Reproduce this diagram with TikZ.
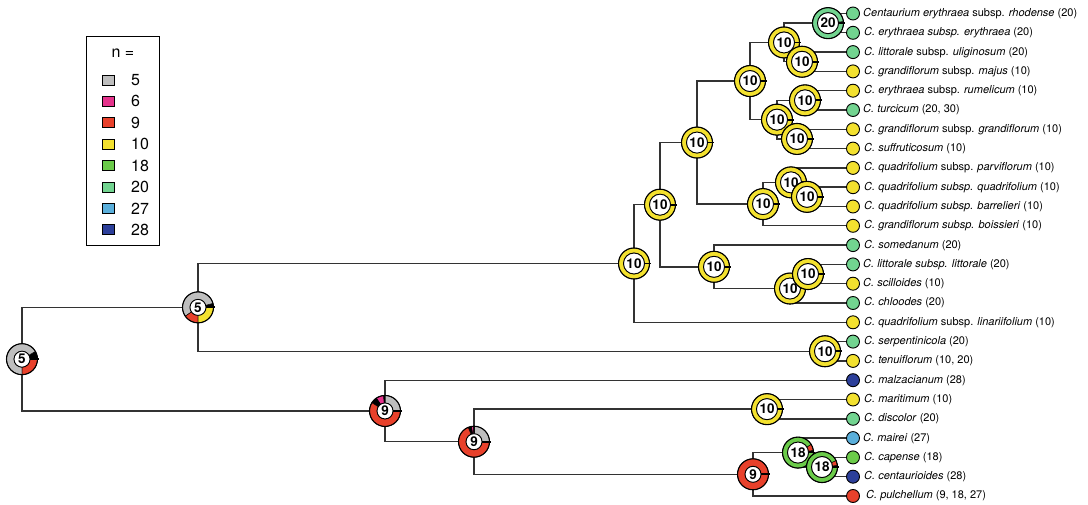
\documentclass[tikz,border=0pt]{standalone}
\usepackage{fontspec}
\setmainfont{TeX Gyre Heros}
\definecolor{c5}{HTML}{BEBEBE}
\definecolor{c6}{HTML}{E5338C}
\definecolor{c9}{HTML}{E8412B}
\definecolor{c10}{HTML}{F3E12F}
\definecolor{c18}{HTML}{6BCB4A}
\definecolor{c20}{HTML}{72D490}
\definecolor{c27}{HTML}{5AAFDB}
\definecolor{c28}{HTML}{2C3F9A}
\newcommand\ringnode[4]{%
  \begin{scope}[shift={(#1)}, yscale=-1]
    \foreach \sa/\sb/\sc in {#4}{%
      \filldraw[fill=\sc, draw=black, line width=0.5pt] (\sa:15.5) arc[start angle=\sa, end angle=\sb, radius=15.5] -- (\sb:#2) arc[start angle=\sb, end angle=\sa, radius=#2] -- cycle;}
    \draw[line width=1.1pt] (0,0) circle[radius=15.5];
    \filldraw[fill=white, draw=black, line width=0.9pt] (0,0) circle[radius=#2];
    \draw[line width=1.8pt] (#2,0) -- (16.5,0);
  \end{scope}
  \node[font=\bfseries\fontsize{13.5}{14}\selectfont, inner sep=0pt] (#1-lab) at (#1) {#3};
}
\begin{document}
\begin{tikzpicture}[x=1pt,y=-1pt,
 edge/.style={draw=black!80, line width=1.4pt},
 tipdot/.style={circle, draw=black, line width=0.9pt, minimum size=13pt, inner sep=0pt},
 lab/.style={anchor=west, inner sep=0pt, font=\fontsize{11}{13}\selectfont},
 legsq/.style={rectangle, draw=black, line width=0.8pt, minimum width=12pt, minimum height=10pt, inner sep=0pt},
 leglab/.style={anchor=west, inner sep=0pt, font=\fontsize{16}{18}\selectfont}]
\useasboundingbox (0,0) rectangle (1088,505);
% internal nodes
\coordinate (root) at (22,359.17);
\coordinate (A) at (198,307.37);
\coordinate (B) at (634,263.5);
\coordinate (C) at (660,204.69);
\coordinate (D) at (697,142.57);
\coordinate (E) at (750,81.05);
\coordinate (F) at (784,42.45);
\coordinate (G) at (828,23.15);
\coordinate (H) at (802,61.75);
\coordinate (I) at (777,119.65);
\coordinate (J) at (805,100.35);
\coordinate (K) at (797,138.95);
\coordinate (L) at (763,204.09);
\coordinate (M) at (791,182.38);
\coordinate (N) at (807,196.85);
\coordinate (O) at (714,266.81);
\coordinate (P) at (790,288.53);
\coordinate (Q) at (808,274.05);
\coordinate (R) at (825,351.25);
\coordinate (S) at (385,410.96);
\coordinate (T) at (474,441.72);
\coordinate (U) at (767,409.15);
\coordinate (V) at (753,474.29);
\coordinate (W) at (798,452.58);
\coordinate (X) at (822,467.05);
% tips
\foreach \i/\yy/\cc in {1/13.5/c20, 2/32.8/c20, 3/52.1/c20, 4/71.4/c10, 5/90.7/c10, 6/110.0/c20, 7/129.3/c10, 8/148.6/c10, 9/167.9/c10, 10/187.2/c10, 11/206.5/c10, 12/225.8/c10, 13/245.1/c20, 14/264.4/c20, 15/283.7/c10, 16/303.0/c20, 17/322.3/c10, 18/341.6/c20, 19/360.9/c10, 20/380.2/c28, 21/399.5/c10, 22/418.8/c20, 23/438.1/c27, 24/457.4/c18, 25/476.7/c28, 26/496.0/c9}
  \node[tipdot, fill=\cc] (t\i) at (853,\yy) {};
% edges
\draw[edge] (root) |- (A); \draw[edge] (root) |- (S);
\draw[edge] (A) |- (B); \draw[edge] (A) |- (R);
\draw[edge] (B) |- (C); \draw[edge] (B) |- (t17);
\draw[edge] (C) |- (D); \draw[edge] (C) |- (O);
\draw[edge] (D) |- (E); \draw[edge] (D) |- (L);
\draw[edge] (E) |- (F); \draw[edge] (E) |- (I);
\draw[edge] (F) |- (G); \draw[edge] (F) |- (H);
\draw[edge] (G) |- (t1); \draw[edge] (G) |- (t2);
\draw[edge] (H) |- (t3); \draw[edge] (H) |- (t4);
\draw[edge] (I) |- (J); \draw[edge] (I) |- (K);
\draw[edge] (J) |- (t5); \draw[edge] (J) |- (t6);
\draw[edge] (K) |- (t7); \draw[edge] (K) |- (t8);
\draw[edge] (L) |- (M); \draw[edge] (L) |- (t12);
\draw[edge] (M) |- (t9); \draw[edge] (M) |- (N);
\draw[edge] (N) |- (t10); \draw[edge] (N) |- (t11);
\draw[edge] (O) |- (t13); \draw[edge] (O) |- (P);
\draw[edge] (P) |- (Q); \draw[edge] (P) |- (t16);
\draw[edge] (Q) |- (t14); \draw[edge] (Q) |- (t15);
\draw[edge] (R) |- (t18); \draw[edge] (R) |- (t19);
\draw[edge] (S) |- (t20); \draw[edge] (S) |- (T);
\draw[edge] (T) |- (U); \draw[edge] (T) |- (V);
\draw[edge] (U) |- (t21); \draw[edge] (U) |- (t22);
\draw[edge] (V) |- (W); \draw[edge] (V) |- (t26);
\draw[edge] (W) |- (t23); \draw[edge] (W) |- (X);
\draw[edge] (X) |- (t24); \draw[edge] (X) |- (t25);
% pie rings (preorder)
\ringnode{root}{8}{5}{0/30/black, 30/270/c5, 270/360/c9}
\ringnode{A}{8}{5}{0/15/black, 15/215/c5, 215/270/c9, 270/360/c10}
\ringnode{B}{10.5}{10}{0/360/c10}
\ringnode{C}{10.5}{10}{0/360/c10}
\ringnode{D}{10.5}{10}{0/360/c10}
\ringnode{E}{10.5}{10}{0/360/c10}
\ringnode{F}{10.5}{10}{0/360/c10}
\ringnode{G}{10.5}{20}{0/6/c10, 6/360/c20}
\ringnode{H}{10.5}{10}{0/360/c10}
\ringnode{I}{10.5}{10}{0/360/c10}
\ringnode{J}{10.5}{10}{0/360/c10}
\ringnode{K}{10.5}{10}{0/360/c10}
\ringnode{L}{10.5}{10}{0/360/c10}
\ringnode{M}{10.5}{10}{0/360/c10}
\ringnode{N}{10.5}{10}{0/360/c10}
\ringnode{O}{10.5}{10}{0/360/c10}
\ringnode{P}{10.5}{10}{0/360/c10}
\ringnode{Q}{10.5}{10}{0/360/c10}
\ringnode{R}{10.5}{10}{0/360/c10}
\ringnode{S}{8}{9}{0/90/c5, 90/96/black, 96/124/c6, 124/148/black, 148/360/c9}
\ringnode{T}{8}{9}{0/88/c5, 88/93/black, 93/100/c6, 100/112/black, 112/360/c9}
\ringnode{U}{10.5}{10}{0/360/c10}
\ringnode{V}{8}{9}{0/360/c9}
\ringnode{W}{10.5}{18}{0/8/black, 8/32/c9, 32/360/c18}
\ringnode{X}{10.5}{18}{0/6/black, 6/25/c9, 25/360/c18}
% tip labels
\node[lab] (l1) at (863,13.5) {\textit{Centaurium erythraea} subsp. \textit{rhodense} (20)};
\node[lab] (l2) at (864,32.8) {\textit{C. erythraea subsp. erythraea} (20)};
\node[lab] (l3) at (864,52.1) {\textit{C. littorale} subsp. \textit{uliginosum} (20)};
\node[lab] (l4) at (864,71.4) {\textit{C. grandiflorum} subsp. \textit{majus} (10)};
\node[lab] (l5) at (864,90.7) {\textit{C. erythraea} subsp. \textit{rumelicum} (10)};
\node[lab] (l6) at (863,110.0) {\textit{C. turcicum} (20, 30)};
\node[lab] (l7) at (864,129.3) {\textit{C. grandiflorum} subsp. \textit{grandiflorum} (10)};
\node[lab] (l8) at (864,148.6) {\textit{C. suffruticosum} (10)};
\node[lab] (l9) at (864,167.9) {\textit{C. quadrifolium} subsp. \textit{parviflorum} (10)};
\node[lab] (l10) at (864,187.2) {\textit{C. quadrifolium subsp. quadrifolium} (10)};
\node[lab] (l11) at (864,206.5) {\textit{C. quadrifolium subsp. barrelieri} (10)};
\node[lab] (l12) at (864,225.8) {\textit{C. grandiflorum subsp. boissieri} (10)};
\node[lab] (l13) at (864,245.1) {\textit{C. somedanum} (20)};
\node[lab] (l14) at (863,264.4) {\textit{C. littorale subsp. littorale} (20)};
\node[lab] (l15) at (863,283.7) {\textit{C. scilloides} (10)};
\node[lab] (l16) at (864,303.0) {\textit{C. chloodes} (20)};
\node[lab] (l17) at (864,322.3) {\textit{C. quadrifolium} subsp. \textit{linariifolium} (10)};
\node[lab] (l18) at (864,341.6) {\textit{C. serpentinicola} (20)};
\node[lab] (l19) at (864,360.9) {\textit{C. tenuiflorum} (10, 20)};
\node[lab] (l20) at (864,380.2) {\textit{C. malzacianum} (28)};
\node[lab] (l21) at (864,399.5) {\textit{C. maritimum} (10)};
\node[lab] (l22) at (864,418.8) {\textit{C. discolor} (20)};
\node[lab] (l23) at (863,438.1) {\textit{C. mairei} (27)};
\node[lab] (l24) at (864,457.4) {\textit{C. capense} (18)};
\node[lab] (l25) at (864,476.7) {\textit{C. centaurioides} (28)};
\node[lab] (l26) at (866,496.0) {\textit{C. pulchellum} (9, 18, 27)};
% legend
\node[draw=black, line width=0.8pt, inner sep=0pt, minimum width=73pt, minimum height=209pt, anchor=north west] (legbox) at (86,36) {};
\node[font=\fontsize{16}{18}\selectfont, inner sep=0pt] (legt) at (123,53) {n =};
\foreach \cc/\lb [count=\k] in {c5/5, c6/6, c9/9, c10/10, c18/18, c20/20, c27/27, c28/28} {
  \node[legsq, fill=\cc] (sq\k) at (108.5,{80+(\k-1)*21.4}) {};
  \node[leglab] (ll\k) at (131,{80+(\k-1)*21.4}) {\lb};
}
\end{tikzpicture}
\end{document}
